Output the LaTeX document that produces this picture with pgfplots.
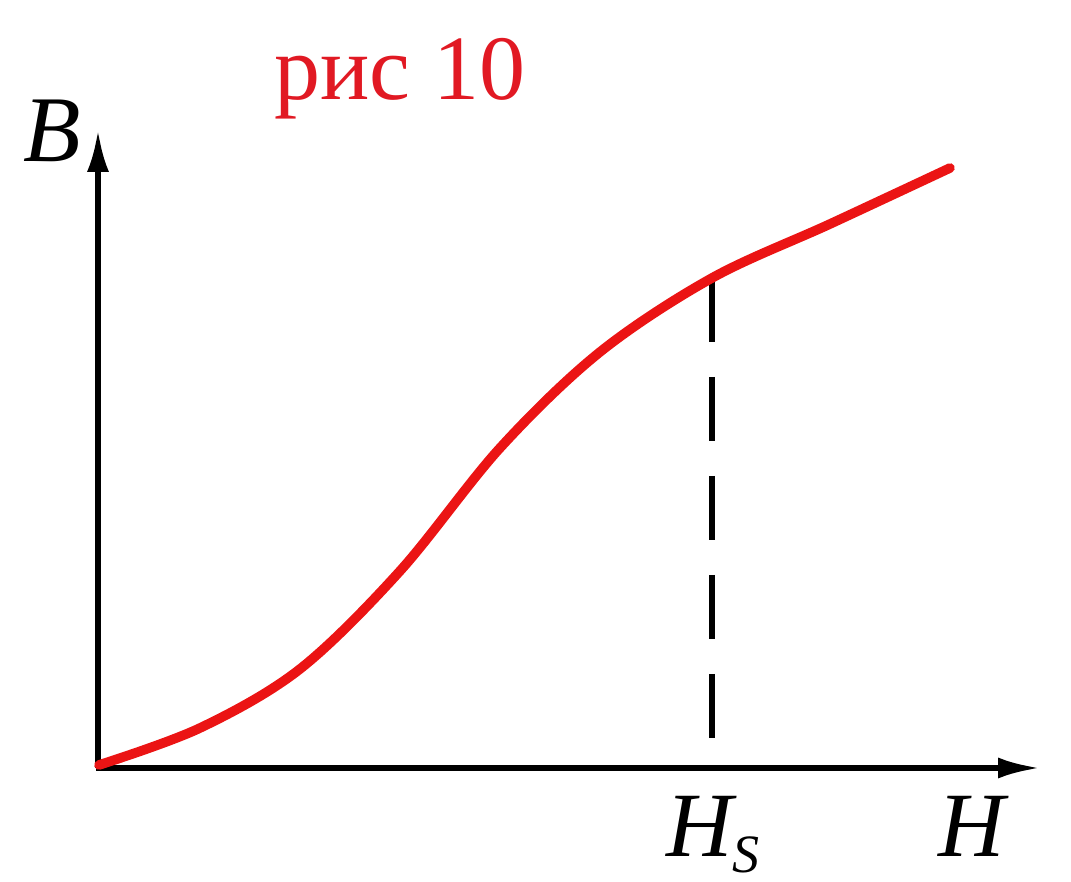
\documentclass[border=0pt]{standalone}
\usepackage{pgfplots}
\pgfplotsset{compat=1.18}
\usepackage{fontspec}
\setmainfont{Liberation Serif}
\usetikzlibrary{arrows.meta}
\definecolor{curvered}{RGB}{235,20,20}
\definecolor{titlered}{RGB}{225,25,35}
\begin{document}
\begin{tikzpicture}
\begin{axis}[
  width=535.5pt, height=441pt, scale only axis,
  xmin=0, xmax=1071, ymin=0, ymax=882,
  hide axis, clip=false,
]
\path (rel axis cs:0,0) rectangle (rel axis cs:1,1);
% axes
\draw[line width=2.8pt, -{Latex[length=21pt,width=11pt]}] (axis cs:98,114) -- (axis cs:98,752);
\draw[line width=2.8pt, -{Latex[length=21pt,width=10.5pt]}] (axis cs:96,114) -- (axis cs:1040,114);
% dashed H_S line
\addplot[black, line width=3.2pt, dash pattern=on 32pt off 17.5pt, line cap=butt] coordinates {(712,604) (712,142)};
% curve
\addplot[curvered, line width=4.8pt, smooth, tension=0.55, line cap=round] coordinates {
(99,117) (200,154) (300,213) (400,311) (500,434) (600,530) (712,604) (830,658) (950,714)
};
% labels
\node[anchor=base, text=titlered, font=\fontsize{46}{46}\selectfont] at (axis cs:400,782) {рис 10};
\node[anchor=base, font=\fontsize{47}{47}\selectfont\itshape] at (axis cs:52,720) {B};
\node[anchor=base, font=\fontsize{46}{46}\selectfont\itshape] at (axis cs:972,25) {H};
\node[anchor=base, font=\fontsize{46}{46}\selectfont\itshape] at (axis cs:713,25) {H\raisebox{-8pt}{\fontsize{27}{27}\selectfont S}};
\end{axis}
\end{tikzpicture}
\end{document}
